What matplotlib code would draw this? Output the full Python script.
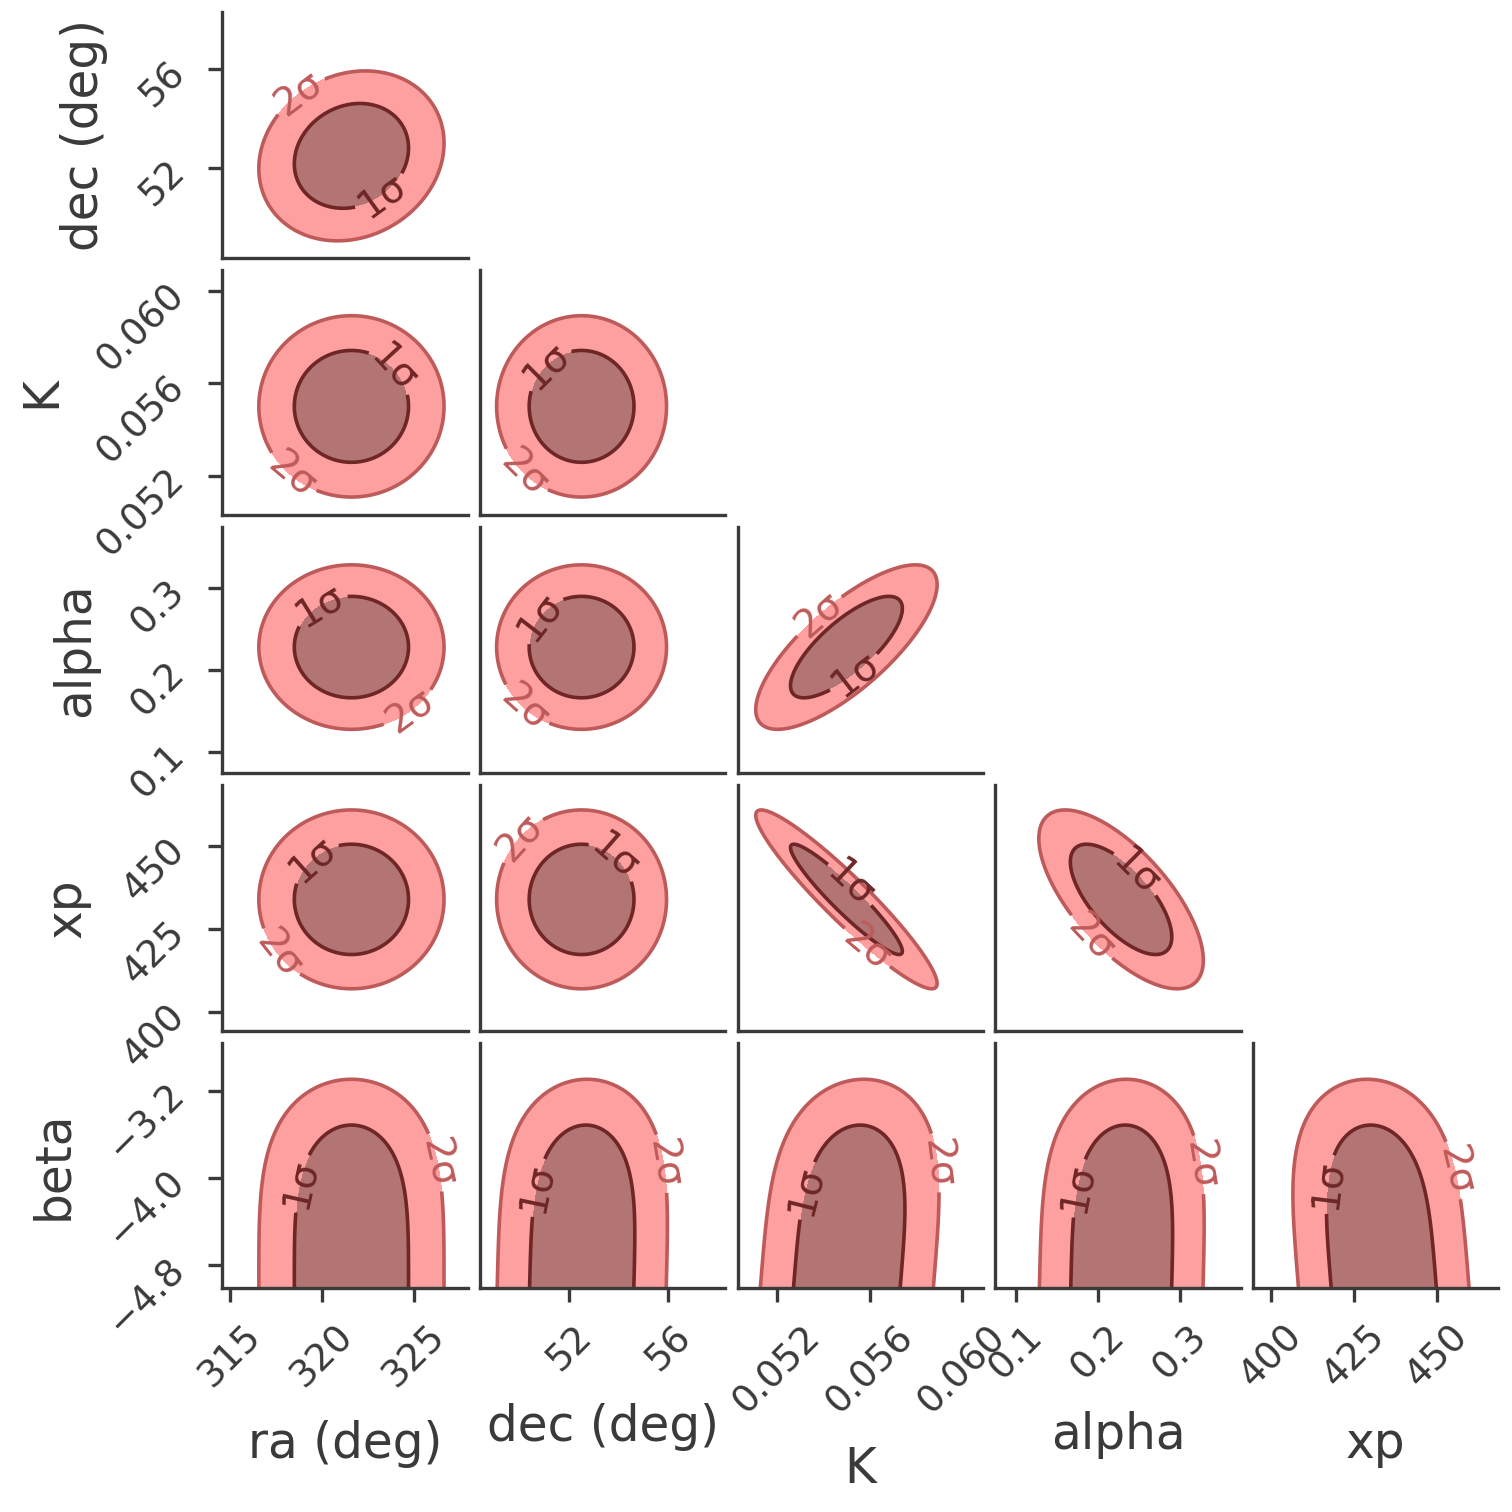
import numpy as np
import matplotlib
matplotlib.use("Agg")
import matplotlib.pyplot as plt

# posterior summary
labels = ["ra (deg)", "dec (deg)", "K", "alpha", "xp", "beta"]
means = [321.6, 52.5, 0.0550, 0.228, 434.0, -5.05]
sigmas = [2.05, 1.4, 0.0016, 0.041, 11.0, 1.25]
shape_power = [2, 2, 2, 2, 2, 4]  # beta posterior is flat-topped, piles up at the prior edge
corr = [
    [1.0, 0.15, 0.0, 0.0, 0.0, 0.0],
    [0.15, 1.0, 0.0, 0.0, 0.0, 0.1],
    [0.0, 0.0, 1.0, 0.76, -0.94, 0.3],
    [0.0, 0.0, 0.76, 1.0, -0.68, 0.1],
    [0.0, 0.0, -0.94, -0.68, 1.0, -0.3],
    [0.0, 0.1, 0.3, 0.1, -0.3, 1.0],
]
limits = [(314.6, 327.9), (48.4, 58.3), (0.0503, 0.0609),
          (0.0745, 0.374), (394.5, 468.4), (-5.01, -2.76)]
ticks = [[315, 320, 325], [52, 56], [0.052, 0.056, 0.060],
         [0.1, 0.2, 0.3], [400, 425, 450], [-4.8, -4.0, -3.2]]
sigma_mass = [0.68, 0.95]
sigma_names = ["1σ", "2σ"]

text_col = "#3a3a3a"
fill_cols = ["#b37474", "#ffa0a0"]
line_cols = ["#6e2626", "#bf5a5a"]

plt.rcParams.update({
    "font.family": "DejaVu Sans",
    "text.color": text_col,
    "axes.labelcolor": text_col,
    "axes.edgecolor": text_col,
    "xtick.color": text_col,
    "ytick.color": text_col,
    "axes.linewidth": 2.4,
    "xtick.major.width": 2.4,
    "ytick.major.width": 2.4,
    "xtick.major.size": 10,
    "ytick.major.size": 10,
    "xtick.major.pad": 12,
    "ytick.major.pad": 12,
    "xtick.labelsize": 27,
    "ytick.labelsize": 27,
    "axes.labelsize": 35,
    "axes.labelpad": 18,
})

q_levels = [-2 * np.log(1 - m) for m in sigma_mass]

fig, axes = plt.subplots(5, 5, figsize=(15.12, 15.12), dpi=100)
fig.subplots_adjust(left=0.147, right=0.991, bottom=0.148, top=0.992,
                    wspace=0.05, hspace=0.05)

for row in range(5):
    yi = row + 1
    for col in range(5):
        ax = axes[row, col]
        xi = col
        if col > row:
            ax.set_visible(False)
            continue
        x0, x1 = limits[xi]
        y0, y1 = limits[yi]
        # grid only over the visible box so the labels land inside it
        X, Y = np.meshgrid(np.linspace(x0, x1, 400), np.linspace(y0, y1, 400))
        u = (X - means[xi]) / sigmas[xi]
        v = (Y - means[yi]) / sigmas[yi]
        r = corr[xi][yi]
        w = (u - r * v) / np.sqrt(1 - r * r)
        Q = np.abs(w) ** shape_power[xi] + np.abs(v) ** shape_power[yi]

        ax.contourf(X, Y, Q, levels=[0] + q_levels, colors=fill_cols)
        cs = ax.contour(X, Y, Q, levels=q_levels, colors=line_cols, linewidths=2.6)
        fmt = dict(zip(cs.levels, sigma_names))
        if yi == 5:
            # open contours touching the bottom edge: put labels part way up the sides
            spots = []
            for path, frac in zip(cs.get_paths(), [0.25, 0.78]):
                verts = path.vertices
                spots.append(tuple(verts[int(frac * (len(verts) - 1))]))
            ax.clabel(cs, fmt=fmt, fontsize=28, inline=True, manual=spots)
        else:
            ax.clabel(cs, fmt=fmt, fontsize=28, inline=True)

        ax.set_xlim(x0, x1)
        ax.set_ylim(y0, y1)
        ax.set_xticks(ticks[xi])
        ax.set_yticks(ticks[yi])
        ax.spines["top"].set_visible(False)
        ax.spines["right"].set_visible(False)

        if row == 4:
            ax.set_xlabel(labels[xi])
            ax.tick_params(axis="x", labelrotation=45)
        else:
            ax.tick_params(axis="x", bottom=False, labelbottom=False)
        if col == 0:
            ax.set_ylabel(labels[yi])
            ax.tick_params(axis="y", labelrotation=45)
        else:
            ax.tick_params(axis="y", left=False, labelleft=False)

fig.savefig("out.png", dpi=100)
